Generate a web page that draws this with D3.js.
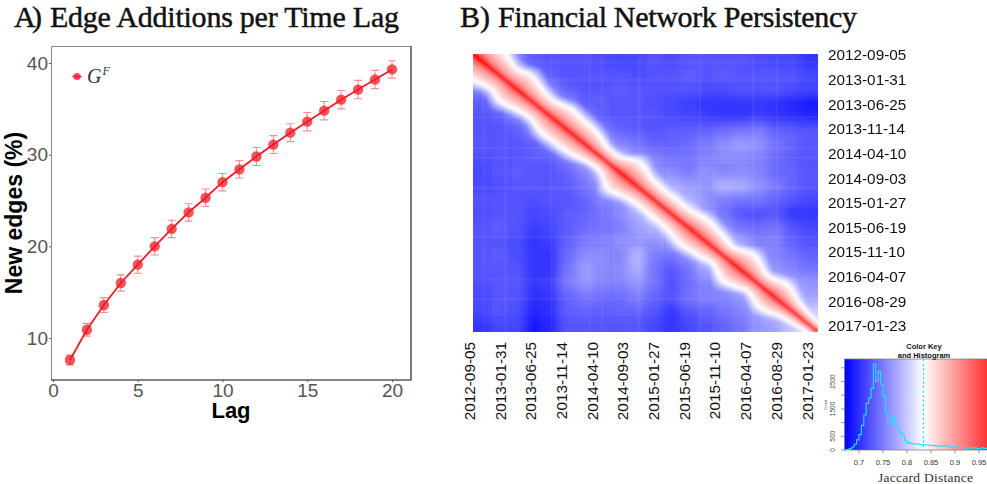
<!DOCTYPE html>
<html><head><meta charset="utf-8">
<script src="https://cdn.jsdelivr.net/npm/d3@7/dist/d3.min.js"></script>
<style>html,body{margin:0;padding:0;background:#fff}svg{display:block}text{font-family:"Liberation Sans",Arial,sans-serif}</style>
</head><body><svg id="c" width="987" height="484"></svg>
<script>
// ---- Panel A
const lags=[1,2,3,4,5,6,7,8,9,10,11,12,13,14,15,16,17,18,19,20];
const newEdges=[7.6,10.9,13.6,16,18,20,21.9,23.7,25.3,27,28.4,29.8,31.1,32.4,33.6,34.8,36,37.1,38.2,39.3];
const errEdges=[.53,.7,.8,.89,.93,.95,.95,.95,.95,.95,.95,.98,.98,.98,1,1,1,1,1,.95];
const xTicksA=[0,5,10,15,20], yTicksA=[10,20,30,40];
// ---- Panel B
const dateLabels=["2012-09-05","2013-01-31","2013-06-25","2013-11-14","2014-04-10","2014-09-03","2015-01-27","2015-06-19","2015-11-10","2016-04-07","2016-08-29","2017-01-23"];
// upper triangle of the symmetric Jaccard matrix (coarse 20x20 reading), row r starts at column r+1
const jaccardUpper=[
[.80,.755,.73,.725,.725,.725,.72,.715,.715,.725,.72,.725,.725,.725,.725,.72,.715,.715,.705],
[.79,.75,.73,.725,.725,.725,.725,.72,.725,.725,.73,.725,.73,.725,.725,.725,.725,.715],
[.80,.755,.73,.725,.725,.73,.725,.725,.725,.725,.72,.72,.725,.725,.725,.72,.715],
[.79,.755,.73,.73,.725,.725,.72,.715,.71,.705,.705,.705,.705,.70,.695,.685],
[.80,.75,.73,.725,.725,.725,.72,.715,.71,.705,.705,.71,.705,.70,.695],
[.79,.755,.735,.73,.725,.73,.73,.735,.74,.745,.75,.735,.73,.725],
[.79,.755,.745,.735,.735,.74,.75,.76,.77,.765,.745,.735,.725],
[.80,.765,.755,.745,.745,.755,.76,.76,.755,.74,.73,.725],
[.80,.765,.76,.75,.765,.755,.76,.755,.74,.735,.725],
[.81,.78,.77,.765,.785,.78,.765,.75,.735,.725],
[.81,.785,.765,.75,.745,.745,.735,.725,.715],
[.81,.775,.745,.725,.72,.725,.705,.705],
[.81,.765,.745,.74,.745,.725,.715],
[.81,.775,.755,.755,.735,.725],
[.80,.765,.755,.745,.735],
[.80,.765,.755,.745],
[.80,.775,.765],
[.80,.775],
[.80]];
// faint row/column streaks in the matrix: position along the dates, lighter (+) or darker (-)
const streakPos=[.03,.05,.093,.11,.227,.258,.338,.374,.40,.478,.484,.556,.658,.687,.812,.881,.948];
const streakSign=[1,-1,1,-1,1,-1,1,1,-1,1,1,-1,1,-1,1,1,-1];
// position along the diagonal and distance from it at which the matrix reaches white
const bandPos=[0,.051,.089,.123,.161,.198,.237,.273,.323,.363,.398,.436,.494,.558,.595,.639,.678,.724,.77,.825,.872,.922,.98,1];
const bandDist=[.1,.095,.077,.095,.078,.067,.087,.086,.078,.056,.056,.096,.068,.066,.068,.084,.076,.06,.094,.06,.082,.052,.033,.03];
// glow just outside the white edge: multiple of that distance, white opacity
const haloFrac=[1.5,1.35,1.2,1.1];
const haloAlpha=[.18,.28,.4,.55];
// band profile: multiple of that distance, value
const bandFrac=[1,.9,.75,.6,.45,.3,.2,.1,.04];
const bandVal=[.835,.85,.865,.88,.895,.915,.935,.965,1];
// ---- Histogram
const histStart=[.67,.675,.68,.685,.69,.695,.7,.705,.71,.715,.72,.725,.73,.735,.74,.745,.75,.755,.76,.765,.77,.775,.78,.785,.79,.795,.8,.805,.81,.815,.82,.825,.83,.835,.84,.845,.85,.855,.86,.865,.87,.875,.88,.885,.89,.895,.9,.905,.91,.915,.92,.925,.93,.935,.94,.945,.95,.955,.96,.965,.97];
const histCount=[5,20,50,110,210,370,560,900,1280,1700,1900,2250,3140,2500,2880,2400,1950,1340,980,940,1220,900,850,650,500,340,270,240,230,220,220,200,190,190,180,170,170,160,150,140,140,150,160,120,110,120,120,100,100,80,70,70,70,90,70,50,50,80,60,60,60];
const keyTicks=[.7,.75,.8,.85,.9,.95];
const countTicks=[0,500,1000,1500,2000,2500,3000], countLabels=[0,500,1500,2500];

const svg=d3.select("#c");
const serif='"Liberation Serif","DejaVu Serif",serif';
const title=(t,x,len)=>svg.append("text").attr("x",x).attr("y",27).attr("textLength",len).attr("lengthAdjust","spacing")
  .style("font-family",serif).style("font-size","30px").attr("fill","#111").attr("stroke","#111").attr("stroke-width",.45).text(t);
title("A)",14,28); title("Edge Additions per Time Lag",50,349);
title("B)",460,30); title("Financial Network Persistency",498,359);

// ---------- Panel A
const xA=d3.scaleLinear().domain([0,20]).range([53,392]);
const yA=d3.scaleLinear().domain([10,40]).range([338,63]);
const gA=svg.append("g");
gA.append("path").attr("d","M51.5,380V46.5H411").attr("fill","none").attr("stroke","#8a8a8a").attr("stroke-width",1);
gA.append("path").attr("d","M411,46V380H51").attr("fill","none").attr("stroke","#5a5a5a").attr("stroke-width",1.6);
const axB=gA.append("g").attr("transform","translate(0,380)").call(d3.axisBottom(xA).tickValues(xTicksA).tickSize(2).tickPadding(1));
const axL=gA.append("g").attr("transform","translate(51,0)").call(d3.axisLeft(yA).tickValues(yTicksA).tickSize(2).tickPadding(1));
[axB,axL].forEach(a=>{a.select(".domain").remove();a.selectAll("line").attr("stroke","#555");
  a.selectAll("text").attr("fill","#555").style("font-size","19px").style("font-family",'"Liberation Sans"');});
gA.append("text").attr("x",231).attr("y",418).attr("text-anchor","middle").style("font-size","22px").style("font-weight","bold").attr("fill","#000").text("Lag");
gA.append("text").attr("transform","translate(22,213) rotate(-90)").attr("text-anchor","middle").style("font-size","23px").style("font-weight","bold").attr("fill","#000").text("New edges (%)");
const red="#ee1c25";
const eb=gA.append("g").selectAll("g").data(lags).join("g").attr("stroke",red).attr("stroke-opacity",.5).attr("stroke-width",1.1).attr("fill","none");
eb.append("path").attr("d",(d,i)=>{const x=xA(d),a=yA(newEdges[i]+errEdges[i]),b=yA(newEdges[i]-errEdges[i]);
  return `M${x-4},${a}H${x+4}M${x},${a}V${b}M${x-4},${b}H${x+4}`;});
gA.append("path").datum(lags).attr("fill","none").attr("stroke",red).attr("stroke-width",1.8)
  .attr("d",d3.line().x(d=>xA(d)).y((d,i)=>yA(newEdges[i])));
gA.append("g").selectAll("circle").data(lags).join("circle").attr("cx",d=>xA(d)).attr("cy",(d,i)=>yA(newEdges[i])).attr("r",5.2).attr("fill",red).attr("opacity",.75);
gA.append("line").attr("x1",72.5).attr("x2",81.5).attr("y1",76.5).attr("y2",76.5).attr("stroke",red).attr("stroke-width",1.5);
gA.append("circle").attr("cx",77).attr("cy",76.5).attr("r",3.6).attr("fill",red).attr("opacity",.8);
const lg=gA.append("text").attr("x",87).attr("y",83).style("font-family",serif).style("font-style","italic").style("font-size","20px").attr("fill","#333");
lg.append("tspan").text("G");
lg.append("tspan").attr("dx",1).attr("dy",-8).style("font-size","12px").text("F");

// ---------- Panel B
const heat={l:473,r:818,t:54,b:332};
const n=jaccardUpper.length+1;
const colour=d3.scaleLinear().domain([.67,.835,1]).range(["#0000ff","#ffffff","#ff0000"]);
const defs=svg.append("defs");
defs.append("clipPath").attr("id","hc").append("rect").attr("x",heat.l).attr("y",heat.t).attr("width",heat.r-heat.l).attr("height",heat.b-heat.t);
defs.append("filter").attr("id","soft").attr("x","-10%").attr("y","-10%").attr("width","120%").attr("height","120%")
  .append("feGaussianBlur").attr("stdDeviation",5);
defs.append("filter").attr("id","edge").attr("x","-5%").attr("y","-5%").attr("width","110%").attr("height","110%")
  .append("feGaussianBlur").attr("stdDeviation",1.2);
defs.append("filter").attr("id","fine").attr("x","-5%").attr("y","-5%").attr("width","110%").attr("height","110%")
  .append("feGaussianBlur").attr("stdDeviation",.6);
const xBand=d3.scaleBand().domain(d3.range(n)).range([heat.l,heat.r]);
const yBand=d3.scaleBand().domain(d3.range(n)).range([heat.t,heat.b]);
const val=(r,c)=>r===c?.83:(r<c?jaccardUpper[r][c-r-1]:jaccardUpper[c][r-c-1]);
const cells=d3.cross(d3.range(n),d3.range(n));
const gH=svg.append("g").attr("clip-path","url(#hc)");
const pad=26;
gH.append("g").attr("filter","url(#soft)").selectAll("rect").data(cells).join("rect")
  .attr("x",d=>xBand(d[1])-(d[1]===0?pad:0))
  .attr("y",d=>yBand(d[0])-(d[0]===0?pad:0))
  .attr("width",d=>xBand.bandwidth()+.5+((d[1]===0||d[1]===n-1)?pad:0))
  .attr("height",d=>yBand.bandwidth()+.5+((d[0]===0||d[0]===n-1)?pad:0))
  .attr("fill",d=>colour(val(d[0],d[1])));
const xF=d3.scaleLinear().domain([0,1]).range([heat.l,heat.r]);
const yF=d3.scaleLinear().domain([0,1]).range([heat.t,heat.b]);
const gS=gH.append("g").attr("filter","url(#fine)");
streakPos.forEach((p,i)=>{
  const col=streakSign[i]>0?"#ffffff":"#0000ff", op=streakSign[i]>0?.05:.04;
  gS.append("rect").attr("x",xF(p)-1).attr("y",heat.t).attr("width",2).attr("height",heat.b-heat.t).attr("fill",col).attr("opacity",op);
  gS.append("rect").attr("x",heat.l).attr("y",yF(p)-1).attr("width",heat.r-heat.l).attr("height",2).attr("fill",col).attr("opacity",op);
});
const bandPath=k=>{
  const up=bandPos.map((m,i)=>[xF(m+k*bandDist[i]/2),yF(m-k*bandDist[i]/2)]);
  const lo=bandPos.map((m,i)=>[xF(m-k*bandDist[i]/2),yF(m+k*bandDist[i]/2)]).reverse();
  return d3.line().curve(d3.curveCatmullRomClosed)([...up,...lo]);
};
const gBand=gH.append("g").attr("filter","url(#edge)");
haloFrac.forEach((k,i)=>gBand.append("path").attr("d",bandPath(k)).attr("fill","#fff").attr("opacity",haloAlpha[i]));
bandFrac.forEach((k,i)=>gBand.append("path").attr("d",bandPath(k)).attr("fill",colour(bandVal[i])));
const rightY=d3.scalePoint().domain(dateLabels).range([55,326]);
const botX=d3.scalePoint().domain(dateLabels).range([469.5,807]);
svg.append("g").selectAll("text").data(dateLabels).join("text").attr("x",828).attr("y",d=>rightY(d)).attr("dy","0.35em")
  .style("font-size","15.3px").attr("fill","#111").text(d=>d);
svg.append("g").selectAll("text").data(dateLabels).join("text")
  .attr("transform",d=>`translate(${botX(d)+5.5},342) rotate(-90)`).attr("text-anchor","end")
  .style("font-size","15.3px").attr("fill","#111").text(d=>d);

// ---------- Colour key
const key={l:845,r:1000,t:359,b:450};
const xK=d3.scaleLinear().domain([.7,.95]).range([859,979]);
const yK=d3.scaleLinear().domain([0,2500]).range([450,381.5]);
const grad=defs.append("linearGradient").attr("id","kg").attr("gradientUnits","userSpaceOnUse").attr("x1",xK(.67)).attr("x2",xK(1)).attr("y1",0).attr("y2",0);
colour.domain().forEach(v=>grad.append("stop").attr("offset",(v-.67)/.33).attr("stop-color",colour(v)));
const gK=svg.append("g");
gK.append("rect").attr("x",xK(.67)).attr("y",key.t).attr("width",key.r-xK(.67)).attr("height",key.b-key.t).attr("fill","url(#kg)").attr("stroke","#777").attr("stroke-width",.7);
gK.append("path").datum(histStart).attr("fill","none").attr("stroke","#22e0ff").attr("stroke-width",1.1)
  .attr("d",d3.line().curve(d3.curveStepAfter).x(d=>xK(d)).y((d,i)=>yK(histCount[i])));
gK.append("line").attr("x1",xK(.8345)).attr("x2",xK(.8345)).attr("y1",key.t).attr("y2",key.b).attr("stroke","#22e6f0").attr("stroke-dasharray","2.5,2").attr("stroke-width",1.2);
gK.append("g").selectAll("line").data(keyTicks).join("line").attr("x1",d=>xK(d)).attr("x2",d=>xK(d)).attr("y1",450).attr("y2",453).attr("stroke","#666").attr("stroke-width",.7);
gK.append("g").selectAll("text").data(keyTicks).join("text").attr("x",d=>xK(d)).attr("y",465).attr("text-anchor","middle").style("font-size","7.5px").attr("fill","#333").text(d=>d);
gK.append("g").selectAll("line").data(countTicks).join("line").attr("x1",841).attr("x2",845).attr("y1",d=>yK(d)).attr("y2",d=>yK(d)).attr("stroke","#666").attr("stroke-width",.7);
gK.append("g").selectAll("text").data(countLabels).join("text").attr("transform",d=>`translate(835,${yK(d)}) rotate(-90)`).attr("text-anchor","middle").style("font-size","6.5px").attr("fill","#444").text(d=>d);
gK.append("text").attr("transform","translate(827,405) rotate(-90)").attr("text-anchor","middle").style("font-size","4px").attr("fill","#555").text("Count");
gK.append("text").attr("x",924).attr("y",349).attr("text-anchor","middle").style("font-size","7.5px").style("font-weight","bold").attr("fill","#111").text("Color Key");
gK.append("text").attr("x",924).attr("y",358).attr("text-anchor","middle").style("font-size","7.5px").style("font-weight","bold").attr("fill","#111").text("and Histogram");
gK.append("text").attr("x",878).attr("y",482).attr("textLength",95).style("font-family",serif).style("font-size","13.5px").attr("fill","#333").text("Jaccard Distance");
</script></body></html>
